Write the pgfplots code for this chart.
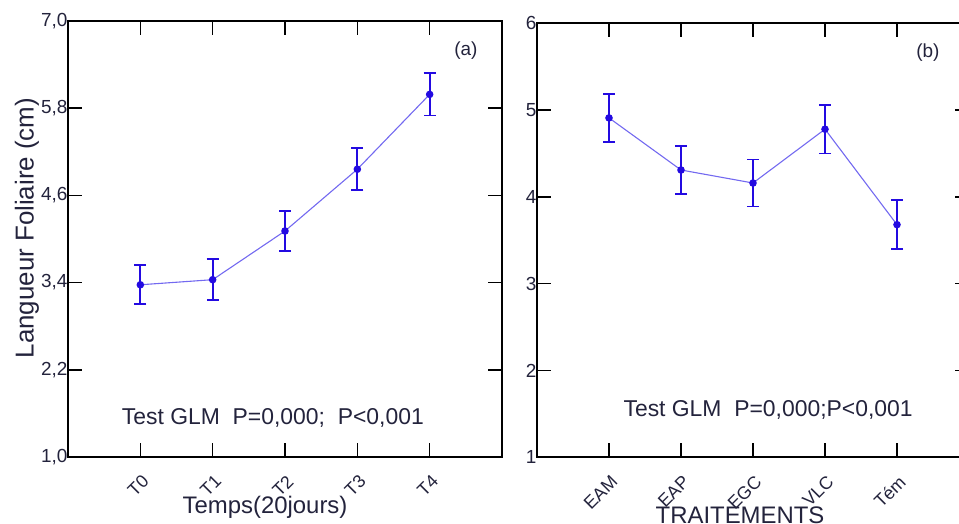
\documentclass[border=0pt]{standalone}
\usepackage{pgfplots}
\pgfplotsset{compat=1.18}
\usepackage{fontspec}
\setmainfont{Liberation Sans}
\definecolor{linec}{RGB}{115,105,240}
\definecolor{markc}{RGB}{35,10,225}
\definecolor{txt}{RGB}{35,35,60}
\begin{document}
\begin{tikzpicture}
\useasboundingbox (0,0) rectangle (959bp,524bp);
\pgfplotsset{
  mystyle/.style={
    scale only axis, anchor=south west, clip=false,
    xmin=0, xmax=6, xtick={1,2,3,4,5},
    tick align=inside, major tick length=14bp,
    axis line style={line width=1.6bp},
    every tick/.style={black, line width=1.6bp},
    tick label style={text=txt},
    yticklabel style={font=\fontsize{19}{19}\selectfont, xshift=3bp},
    xticklabel style={font=\fontsize{18}{18}\selectfont, rotate=45, anchor=east, yshift=-19bp, xshift=-8bp},
    /pgf/number format/assume math mode=true,
  },
  myplot/.style={
    color=linec, line width=1.1bp, mark=*, mark size=3.2bp,
    mark options={fill=markc, draw=markc},
    error bars/.cd, y dir=both, y explicit,
    error bar style={line width=1.8bp, color=markc},
    error mark options={rotate=90, mark size=6bp, line width=1.8bp, color=markc},
  }
}
% Panel (a)
\begin{axis}[mystyle,
  at={(68bp,67bp)}, width=434bp, height=436bp,
  ymin=1, ymax=7, ytick={1,2.2,3.4,4.6,5.8,7},
  yticklabel style={/pgf/number format/.cd, fixed, fixed zerofill, precision=1, use comma},
  xticklabels={T0,T1,T2,T3,T4},
  xlabel={Temps(20jours)},
  xlabel style={font=\fontsize{24}{24}\selectfont, text=txt, at={(rel axis cs:0.454,-0.115)}, anchor=center},
  ylabel={Langueur Foliaire (cm)},
  ylabel style={font=\fontsize{26}{26}\selectfont, text=txt, at={(rel axis cs:-0.0945,0.525)}, anchor=center},
]
\addplot[myplot] table[x=x, y=y, y error=e] {
x y e
1 3.37 0.27
2 3.44 0.28
3 4.11 0.27
4 4.96 0.29
5 5.99 0.29
};
\node[font=\fontsize{23}{23}\selectfont, text=txt] at (rel axis cs:0.472,0.089) {Test GLM\ \ P=0,000;\ \ P<0,001};
\node[font=\fontsize{19}{19}\selectfont, text=txt] at (rel axis cs:0.917,0.933) {(a)};
\end{axis}
% Panel (b)
\begin{axis}[mystyle,
  at={(537bp,66.7bp)}, width=432bp, height=434bp,
  ymin=1, ymax=6, ytick={1,2,3,4,5,6},
  xticklabels={EAM,EAP,EGC,VLC,Tém},
  xlabel={TRAITEMENTS},
  xlabel style={font=\fontsize{24}{24}\selectfont, text=txt, at={(rel axis cs:0.47,-0.134)}, anchor=center},
]
\addplot[myplot] table[x=x, y=y, y error=e] {
x y e
1 4.91 0.28
2 4.31 0.28
3 4.16 0.27
4 4.78 0.28
5 3.68 0.28
};
\node[font=\fontsize{23}{23}\selectfont, text=txt] at (rel axis cs:0.535,0.109) {Test GLM\ \ P=0,000;P<0,001};
\node[font=\fontsize{19}{19}\selectfont, text=txt] at (rel axis cs:0.905,0.932) {(b)};
\end{axis}
\end{tikzpicture}
\end{document}
